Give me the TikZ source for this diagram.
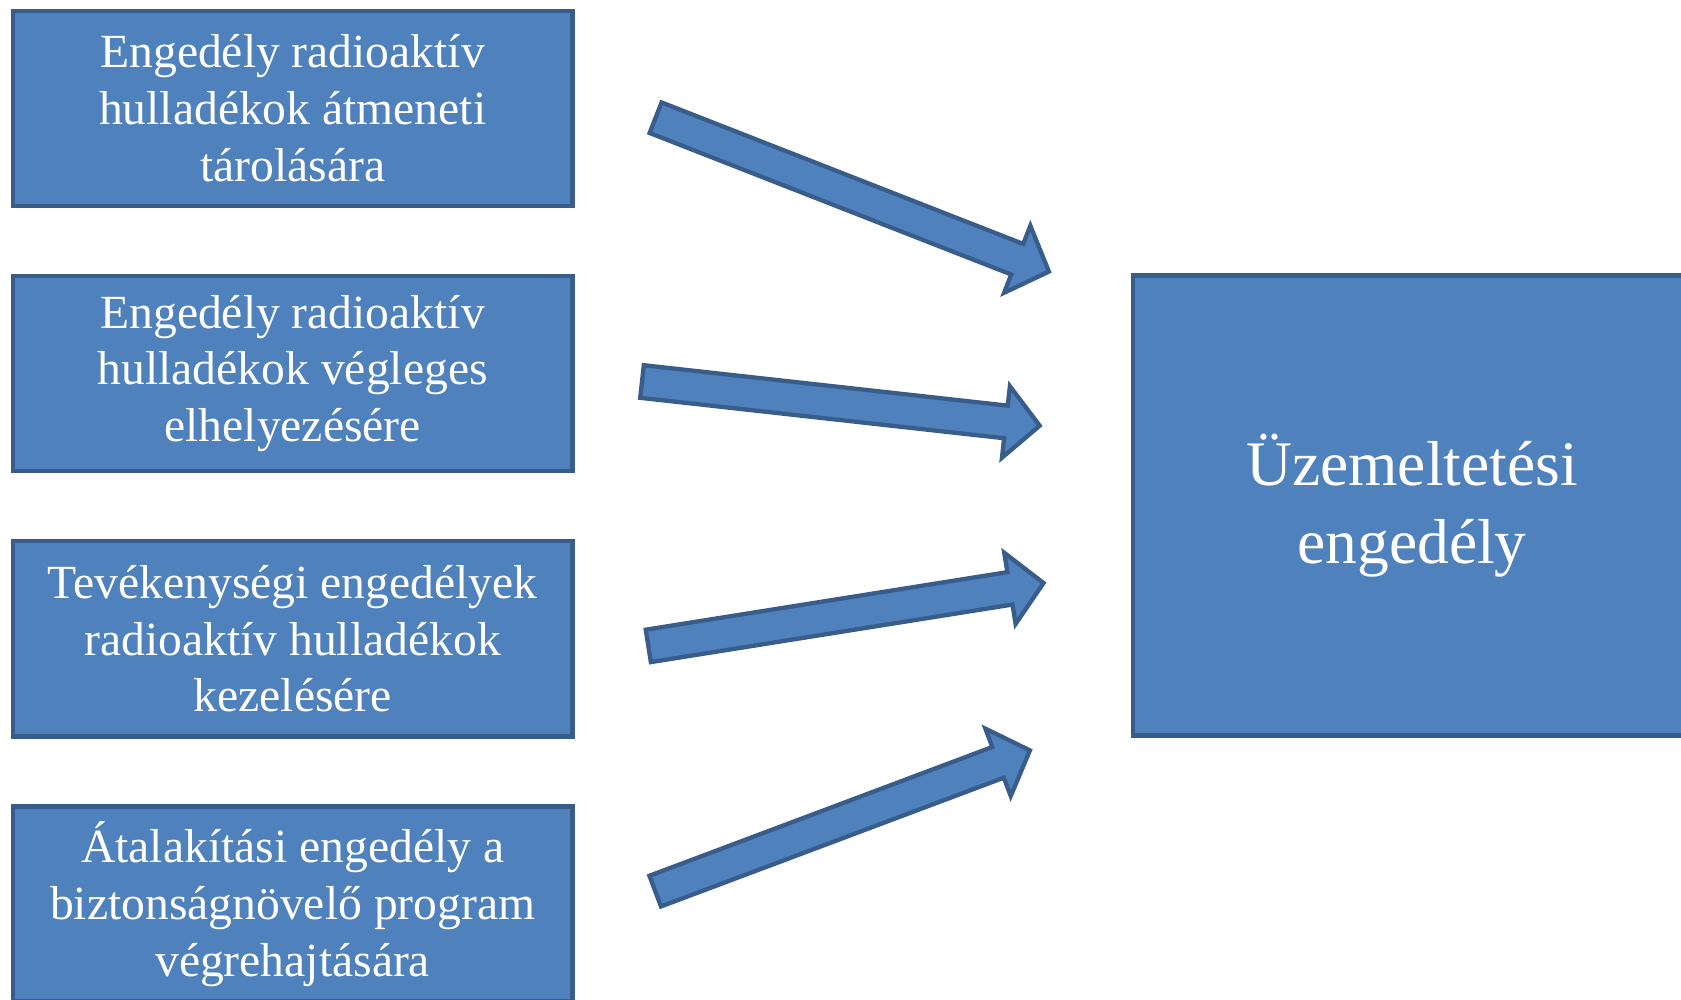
\documentclass[tikz,border=0pt]{standalone}
\usepackage{fontspec}
\setmainfont{Liberation Serif}
\usetikzlibrary{calc}
\definecolor{boxfill}{HTML}{4F81BD}
\definecolor{boxline}{HTML}{385D8A}
\tikzset{
  permit/.style={draw=boxline, fill=boxfill, line width=4.3pt, text=white, align=center,
    inner sep=0pt, font=\fontsize{47.6}{56.8}\selectfont,
    minimum width=559.6pt, minimum height=195.1pt},
  mainbox/.style={draw=boxline, fill=boxfill, line width=4.3pt, text=white, align=center,
    inner sep=0pt, font=\fontsize{63.5}{78}\selectfont,
    minimum width=557.7pt, minimum height=459.9pt},
  fatarrow/.style={draw=boxline, fill=boxfill, line width=4.3pt, line join=miter}
}
\newcommand\blockarrow[2]{%
  \coordinate (hb) at ($(#2)!34pt!(#1)$);
  \draw[fatarrow] ($(#1)!16.4pt!90:(#2)$) -- ($(hb)!16.4pt!90:(#2)$) -- ($(hb)!36pt!90:(#2)$)
    -- (#2) -- ($(hb)!36pt!-90:(#2)$) -- ($(hb)!16.4pt!-90:(#2)$) -- ($(#1)!16.4pt!-90:(#2)$) -- cycle;
}
\begin{document}
\begin{tikzpicture}[x=1pt,y=-1pt]
\useasboundingbox (0,0) rectangle (1681,999);
\clip (0,0) rectangle (1681,999);
\node[permit] (b1) at (292.65,108.3) {Engedély radioaktív\\hulladékok átmeneti\\tárolására};
\node[permit] (b2) at (292.65,373.5) {Engedély radioaktív\\hulladékok végleges\\elhelyezésére};
\node[permit] (b3) at (292.65,638.8) {Tevékenységi engedélyek\\radioaktív hulladékok\\kezelésére};
\node[permit] (b4) at (292.65,904) {Átalakítási engedély a\\biztonságnövelő program\\végrehajtására};
\node[mainbox] (m) at (1412,505.5) {Üzemeltetési\\engedély};
\coordinate (t1) at (655.6,117.7);
\coordinate (p1) at (1048.9,271.6);
\coordinate (t2) at (642,381.5);
\coordinate (p2) at (1039.7,425.7);
\coordinate (t3) at (648.3,645.9);
\coordinate (p3) at (1043.5,583);
\coordinate (t4) at (655.2,891.1);
\coordinate (p4) at (1029.9,750.4);
\blockarrow{t1}{p1}
\blockarrow{t2}{p2}
\blockarrow{t3}{p3}
\blockarrow{t4}{p4}
\end{tikzpicture}
\end{document}
